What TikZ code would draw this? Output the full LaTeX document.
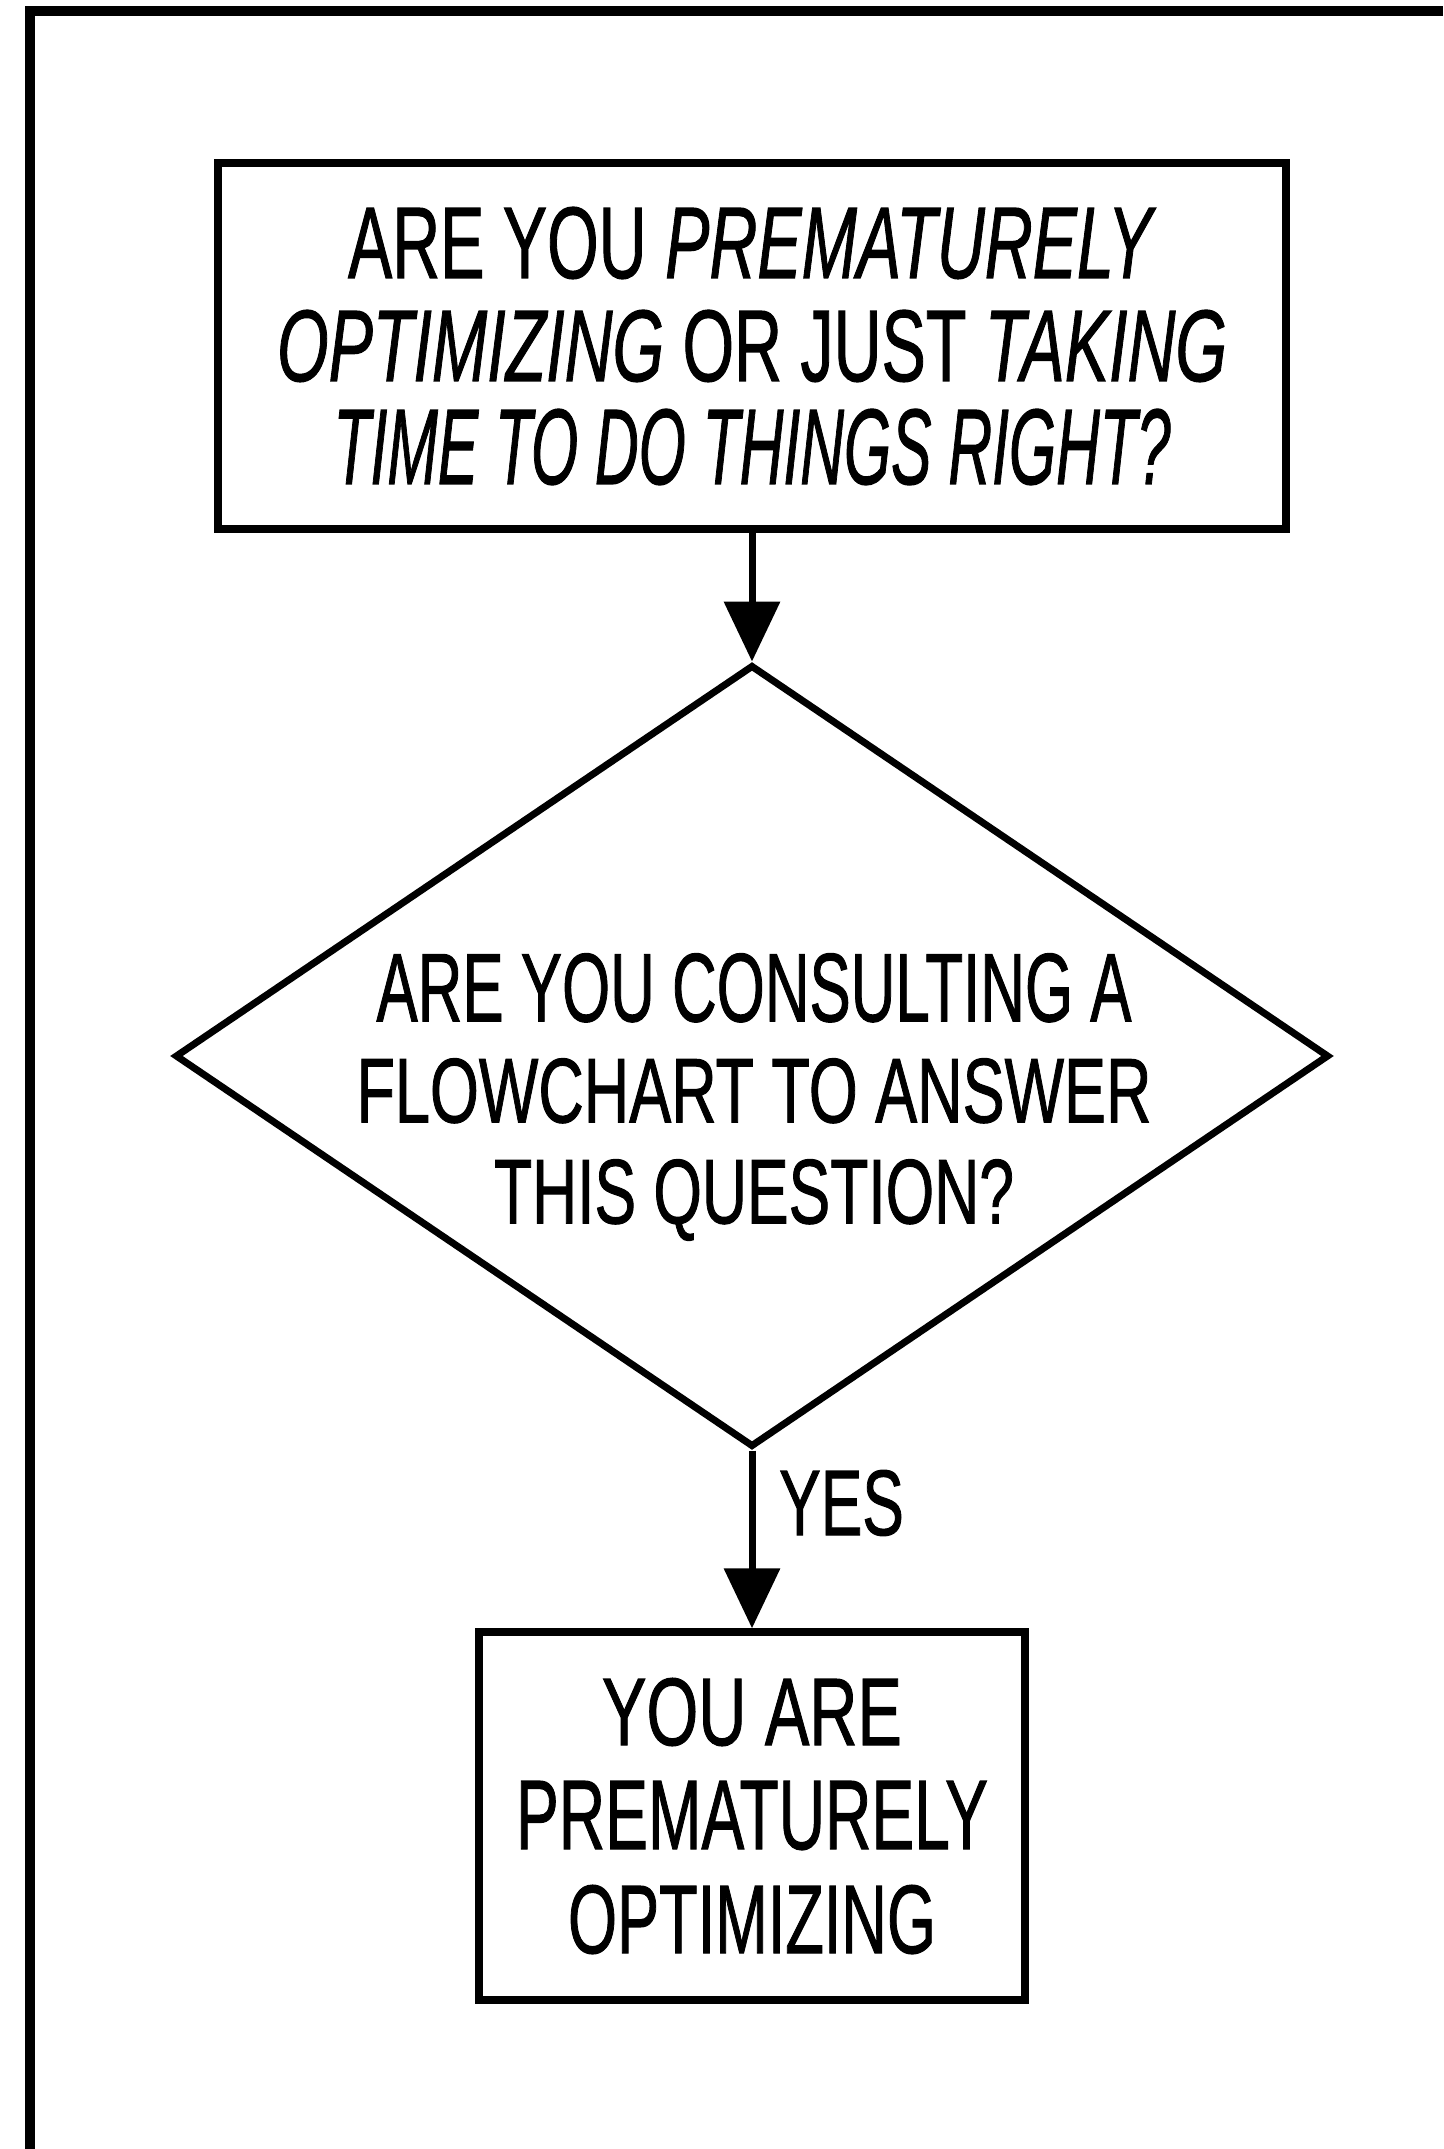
\documentclass[tikz,border=0pt]{standalone}
\usepackage{fontspec}
\setmainfont{Liberation Sans}[FakeBold=1.2]
\usepackage{graphicx}
\usetikzlibrary{shapes.geometric,arrows.meta}
\newcommand{\fitline}[3]{\resizebox{#1pt}{#2pt}{#3}}
\begin{document}
\begin{tikzpicture}[x=1pt,y=-1pt,
  every node/.style={inner sep=0pt},
  flowbox/.style={draw,line width=7.5pt,rectangle,align=center,
    font=\fontsize{100pt}{103pt}\selectfont},
  decision/.style={draw,line width=7pt,diamond,minimum width=1154pt,minimum height=782pt},
  dectext/.style={align=center,font=\fontsize{100pt}{101pt}\selectfont},
  flow/.style={line width=7pt,-{Triangle[length=60pt,width=55pt]}},
  edgelabel/.style={font=\fontsize{93pt}{93pt}\selectfont},
  framestroke/.style={line width=10pt}]
\useasboundingbox (0,0) rectangle (1443,2149);
\fill[white] (0,0) rectangle (1443,2149);
\draw[framestroke] (30,2149) -- (30,11) -- (1443,11);

\node[flowbox,minimum width=1068pt,minimum height=366pt] (q1) at (752,346)
  {\fitline{808}{71}{ARE YOU \textit{PREMATURELY}}\\
   \fitline{950}{71}{\textit{OPTIMIZING} OR JUST \textit{TAKING}}\\
   \fitline{837}{75}{\textit{TIME TO DO THINGS RIGHT?}}};

\node[decision] (q2) at (752,1056) {};
\node[dectext] (q2text) at (754,1097)
  {\fitline{755}{68}{ARE YOU CONSULTING A}\\
   \fitline{795}{64}{FLOWCHART TO ANSWER}\\
   \fitline{520}{64}{THIS QUESTION?}};

\node[flowbox,minimum width=546pt,minimum height=368pt,
  font=\fontsize{100pt}{104pt}\selectfont] (res) at (752,1816)
  {\fitline{300}{67}{YOU ARE}\\
   \fitline{472}{68}{PREMATURELY}\\
   \fitline{368}{68}{OPTIMIZING}};

\draw[flow] (q1.south) -- (q2.north);
\draw[flow] (q2.south) -- (res.north);
\node[edgelabel,anchor=base west] (yes) at (779,1535) {\scalebox{0.67}[1]{YES}};
\end{tikzpicture}
\end{document}
